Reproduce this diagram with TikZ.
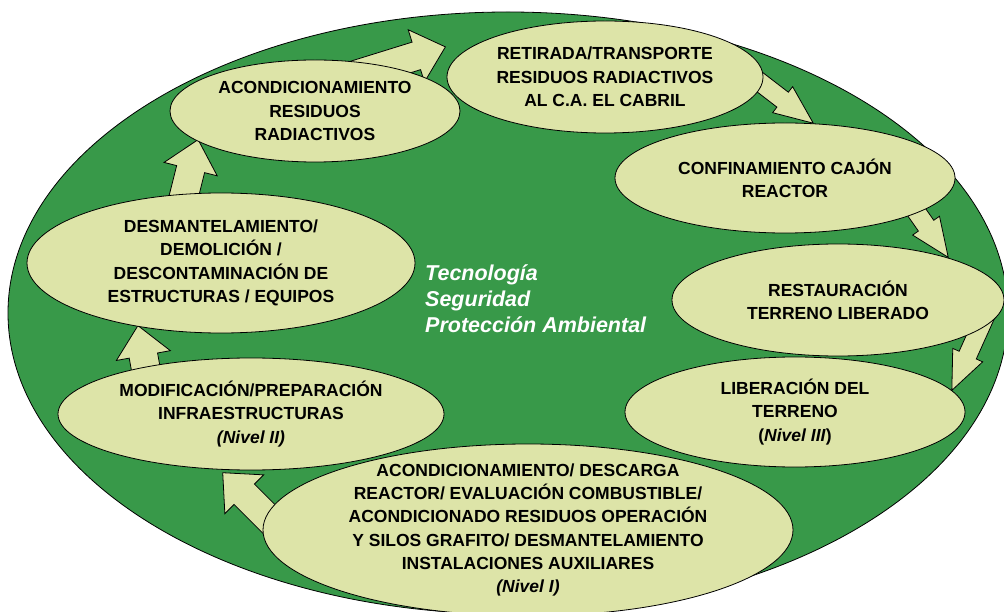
\documentclass[tikz,border=0pt]{standalone}
\usepackage{fontspec}
\setmainfont{Liberation Sans}
\usetikzlibrary{shapes,arrows,calc}

\definecolor{ciclocolor}{RGB}{56,153,73}
\definecolor{fasecolor}{RGB}{221,228,168}

\pgfdeclarelayer{fondo}
\pgfdeclarelayer{flechas}
\pgfsetlayers{fondo,flechas,main}

% block arrow from a tail point to a tip point
\newcommand{\flecha}[3]{%
  \path let \p1=#2, \p2=#3, \n1={atan2(\y2-\y1,\x2-\x1)}, \n2={veclen(\x2-\x1,\y2-\y1)} in
    node [#1, rotate=\n1, minimum height=\n2, anchor=tail] at (\p1) {};}

\begin{document}
\begin{tikzpicture}[x=1pt, y=-1pt]
        \tikzstyle{fase} = [ellipse, draw, fill=fasecolor, line width=0.8pt, inner sep=-40pt, align=center, font=\fontsize{17.5}{23.3}\selectfont\bfseries]
        \tikzstyle{ciclo} = [ellipse, draw, fill=ciclocolor, line width=0.8pt, inner sep=0pt]
        \tikzstyle{lema} = [text=white, align=left, inner sep=0pt, font=\fontsize{21.5}{26}\selectfont\bfseries\itshape]
        \tikzstyle{flecha_ancha} = [single arrow, draw, fill=fasecolor, line width=0.8pt, inner xsep=0pt, inner ysep=14pt, single arrow head extend=13pt, single arrow tip angle=84, minimum width=54pt]
        \tikzstyle{flecha_fina} = [single arrow, draw, fill=fasecolor, line width=0.8pt, inner xsep=0pt, inner ysep=9pt, single arrow head extend=7pt, single arrow tip angle=46, minimum width=32pt]

        \useasboundingbox (0,0) rectangle (1004,612);

        \begin{pgfonlayer}{fondo}
            \node [ciclo, minimum width=1000pt, minimum height=602pt] (entorno) at (508,313) {};
        \end{pgfonlayer}

        \node [fase, minimum width=290pt, minimum height=102pt] (acondicionamiento) at (315,111) {ACONDICIONAMIENTO\\RESIDUOS\\RADIACTIVOS};
        \node [fase, minimum width=316pt, minimum height=112pt] (retirada) at (605,77) {RETIRADA/TRANSPORTE\\RESIDUOS RADIACTIVOS\\AL C.A. EL CABRIL};
        \node [fase, minimum width=340pt, minimum height=110pt] (confinamiento) at (785,178) {CONFINAMIENTO CAJÓN\\REACTOR};
        \node [fase, minimum width=332pt, minimum height=112pt] (restauracion) at (838,300) {RESTAURACIÓN\\TERRENO LIBERADO};
        \node [fase, minimum width=340pt, minimum height=110pt] (liberacion) at (795,412) {LIBERACIÓN DEL\\TERRENO\\(\textit{Nivel III})};
        \node [fase, minimum width=386pt, minimum height=112pt] (modificacion) at (251,414) {MODIFICACIÓN/PREPARACIÓN\\INFRAESTRUCTURAS\\\textit{(Nivel II)}};
        \node [fase, minimum width=388pt, minimum height=140pt] (desmantelamiento) at (221,263) {DESMANTELAMIENTO/\\DEMOLICIÓN /\\DESCONTAMINACIÓN DE\\ESTRUCTURAS / EQUIPOS};
        \node [fase, minimum width=530pt, minimum height=172pt] (descarga) at (528,530) {ACONDICIONAMIENTO/ DESCARGA\\REACTOR/ EVALUACIÓN COMBUSTIBLE/\\ACONDICIONADO RESIDUOS OPERACIÓN\\Y SILOS GRAFITO/ DESMANTELAMIENTO\\INSTALACIONES AUXILIARES\\\textit{(Nivel I)}};

        \node [lema, anchor=base west] (lema) at (425,333) {Tecnología\\Seguridad\\Protección Ambiental};

        \begin{pgfonlayer}{flechas}
            \flecha{flecha_ancha}{([shift={(-220,28)}]descarga.center)}{([shift={(-28,59)}]modificacion.center)}
            \flecha{flecha_ancha}{([shift={(-97,0)}]modificacion.center)}{([shift={(-83,63)}]desmantelamiento.center)}
            \flecha{flecha_ancha}{([shift={(-50,-16)}]desmantelamiento.center)}{([shift={(-117,29)}]acondicionamiento.center)}
            \flecha{flecha_ancha}{([shift={(14,-28)}]acondicionamiento.center)}{([shift={(-160,-30)}]retirada.center)}
            \flecha{flecha_fina}{([shift={(113,-27)}]retirada.center)}{([shift={(28,-55)}]confinamiento.center)}
            \flecha{flecha_fina}{([shift={(100,-11)}]confinamiento.center)}{([shift={(110,-43)}]restauracion.center)}
            \flecha{flecha_fina}{([shift={(150,10)}]restauracion.center)}{([shift={(157,-22)}]liberacion.center)}
        \end{pgfonlayer}

    \end{tikzpicture}
\end{document}
